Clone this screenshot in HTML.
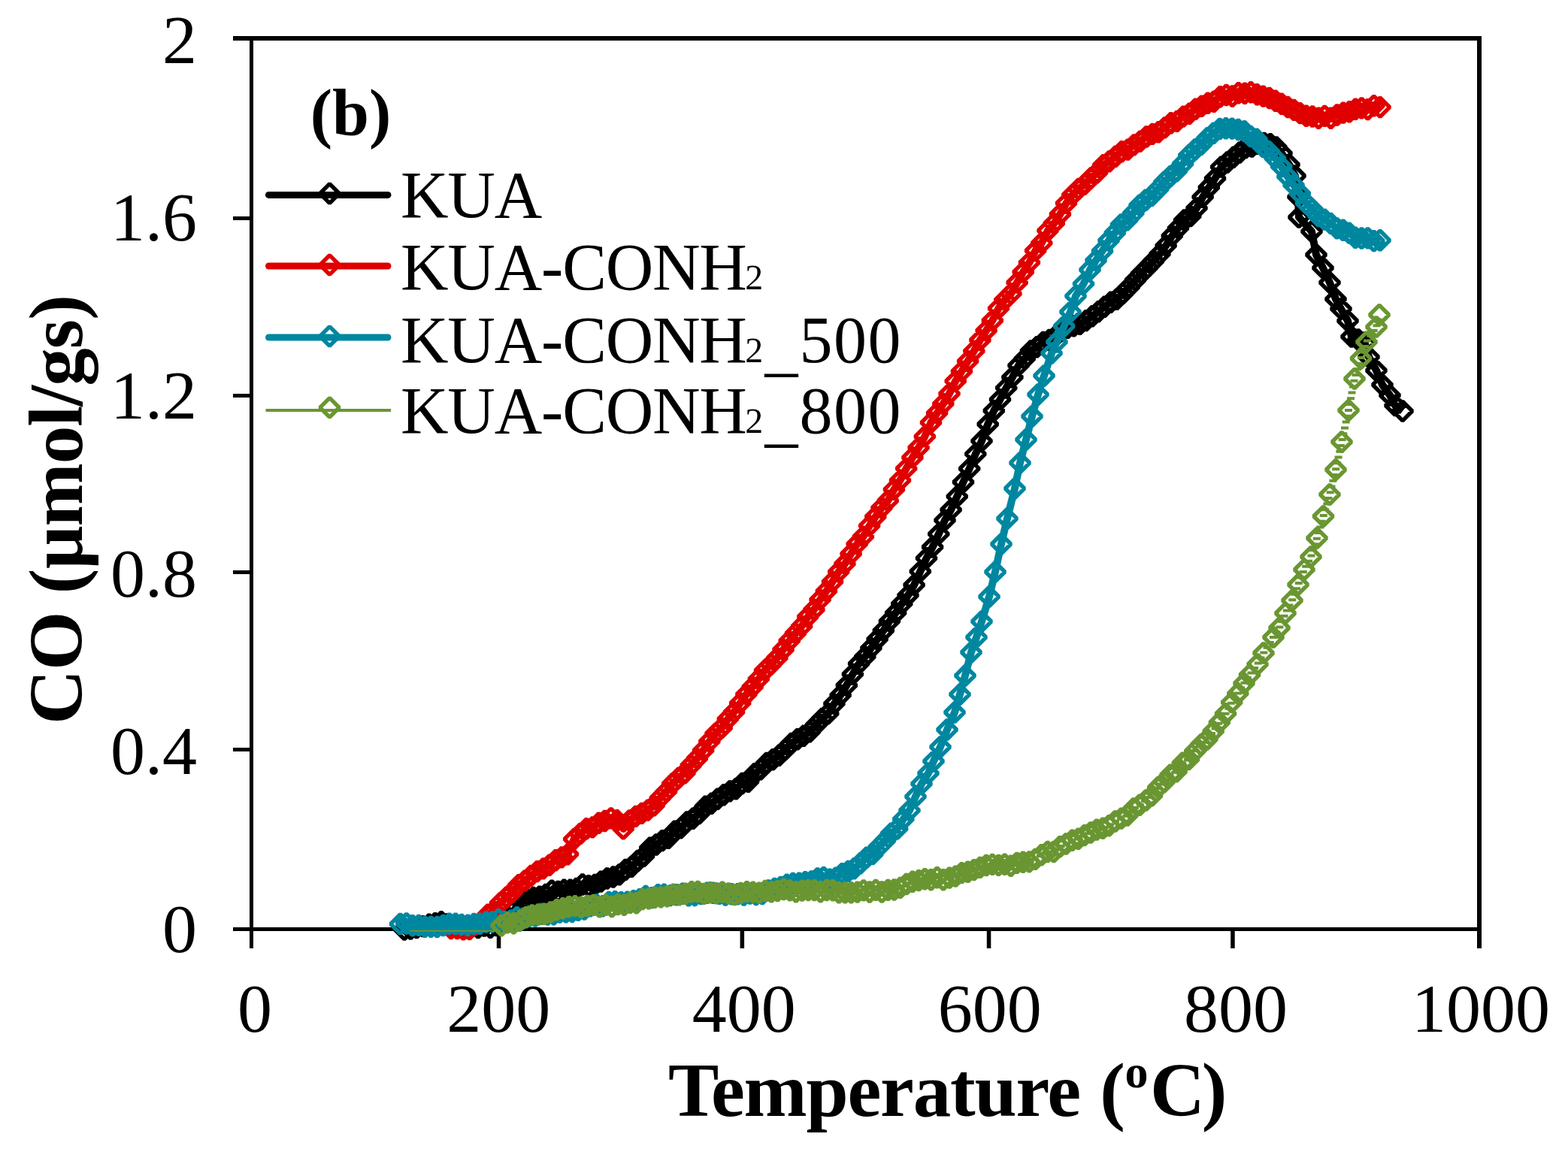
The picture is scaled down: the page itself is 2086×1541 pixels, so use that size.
<!DOCTYPE html>
<html><head><meta charset="utf-8">
<style>
html,body{margin:0;padding:0;background:#fff;}
svg{display:block;}
.t{font-family:"Liberation Serif","Times New Roman",serif;}
.tick{font-size:92px;}
.leg{font-size:88px;letter-spacing:-1.2px;}
.sub{font-size:80px;}
.bold{font-weight:bold;}
</style></head><body>
<svg width="2086" height="1541" viewBox="0 0 2086 1541">
<rect width="2086" height="1541" fill="#fff"/>
<g fill="#000"><rect x="310" y="48" width="1661" height="6"/><rect x="310" y="1234" width="1661" height="5"/><rect x="332" y="48" width="5" height="1214"/><rect x="1965" y="48" width="6" height="1214"/><rect x="310" y="288.0" width="24" height="5"/><rect x="310" y="524.0" width="24" height="5"/><rect x="310" y="759.0" width="24" height="5"/><rect x="310" y="995.0" width="24" height="5"/><rect x="660.8" y="1236" width="5.5" height="26"/><rect x="984.6" y="1236" width="5.5" height="26"/><rect x="1312.8" y="1236" width="5.5" height="26"/><rect x="1637.2" y="1236" width="5.5" height="26"/></g>
<g class="t tick" fill="#000"><text x="262" y="83.5" text-anchor="end">2</text><text x="262" y="320.2" text-anchor="end">1.6</text><text x="262" y="556.9" text-anchor="end">1.2</text><text x="262" y="793.6" text-anchor="end">0.8</text><text x="262" y="1030.3" text-anchor="end">0.4</text><text x="262" y="1267.0" text-anchor="end">0</text><text x="338.9" y="1373" text-anchor="middle">0</text><text x="663.2" y="1373" text-anchor="middle">200</text><text x="989.7" y="1373" text-anchor="middle">400</text><text x="1316.7" y="1373" text-anchor="middle">600</text><text x="1644.0" y="1373" text-anchor="middle">800</text><text x="1970.0" y="1373" text-anchor="middle">1000</text></g>
<g id="series">
<path d="M538.0,1237.1 L546.2,1236.0 L554.3,1234.5 L562.5,1232.6 L570.7,1230.3 L578.9,1228.8 L587.0,1226.8 L595.2,1229.7 L603.4,1233.2 L611.5,1234.1 L619.7,1234.8 L627.9,1232.8 L636.0,1234.5 L644.2,1232.0 L652.4,1234.4 L660.6,1231.6 L668.7,1225.6 L676.9,1221.6 L685.1,1209.5 L693.2,1200.2 L701.4,1197.7 L709.6,1194.4 L717.7,1193.1 L725.9,1190.5 L734.1,1185.1 L742.3,1186.5 L750.4,1184.1 L758.6,1184.2 L766.8,1182.5 L774.9,1177.0 L783.1,1178.8 L791.3,1177.4 L799.4,1173.1 L807.6,1169.0 L815.8,1167.0 L824.0,1163.9 L832.1,1157.4 L840.3,1153.2 L848.5,1145.5 L856.6,1139.3 L864.8,1128.2 L873.0,1124.0 L881.1,1118.6 L889.3,1115.2 L897.5,1106.3 L905.7,1101.9 L913.8,1093.9 L922.0,1089.3 L930.2,1082.5 L938.3,1073.3 L946.5,1069.3 L954.7,1063.2 L962.9,1057.7 L971.0,1052.9 L979.2,1049.7 L987.4,1042.5 L995.5,1040.2 L1003.7,1029.8 L1011.9,1023.8 L1020.0,1015.4 L1028.2,1010.7 L1036.4,1005.3 L1044.6,997.6 L1052.7,989.5 L1060.9,983.7 L1069.1,979.2 L1077.2,973.8 L1085.4,964.8 L1093.6,956.5 L1101.7,949.6 L1109.9,936.4 L1118.1,925.2 L1126.3,912.0 L1134.4,897.2 L1142.6,883.2 L1150.8,873.9 L1158.9,862.4 L1167.1,850.7 L1175.3,839.2 L1183.4,826.6 L1191.6,815.6 L1199.8,803.4 L1208.0,792.2 L1216.1,778.4 L1224.3,760.4 L1232.5,742.8 L1240.6,728.0 L1248.8,710.6 L1257.0,692.3 L1265.1,678.4 L1273.3,660.6 L1281.5,641.5 L1289.7,623.6 L1297.8,604.1 L1306.0,586.8 L1314.2,564.5 L1322.3,546.5 L1330.5,531.7 L1338.7,516.1 L1346.9,502.0 L1355.0,486.3 L1363.2,477.4 L1371.4,467.0 L1379.5,461.7 L1387.7,455.5 L1395.9,452.5 L1404.0,447.6 L1412.2,440.5 L1420.4,436.3 L1428.6,433.8 L1436.7,431.3 L1444.9,426.6 L1453.1,420.8 L1461.2,414.7 L1469.4,408.2 L1477.6,402.3 L1485.7,398.3 L1493.9,390.5 L1502.1,382.1 L1510.3,372.9 L1518.4,364.1 L1526.6,355.8 L1534.8,347.2 L1542.9,338.1 L1551.1,326.9 L1559.3,313.8 L1567.4,303.7 L1575.6,293.0 L1583.8,287.6 L1592.0,276.9 L1600.1,262.2 L1608.3,249.3 L1616.5,237.5 L1624.6,222.1 L1632.8,216.0 L1641.0,209.3 L1649.1,203.0 L1657.3,196.5 L1665.5,195.0 L1673.7,191.2 L1681.8,190.5 L1690.0,191.7 L1698.0,196.0 L1705.0,204.0 L1715.0,219.0 L1723.0,234.0 L1727.0,262.0 L1728.0,289.0 L1745.0,308.0 L1751.0,339.0 L1760.0,356.5 L1769.0,376.0 L1777.0,398.0 L1784.0,411.0 L1793.0,427.0 L1798.0,448.0 L1807.0,452.0 L1815.5,456.0 L1821.0,475.0 L1831.0,493.0 L1839.0,512.0 L1849.0,526.0 L1856.0,539.5 L1866.0,547.0" fill="none" stroke="#000000" stroke-width="10" stroke-linejoin="round"/><path d="M538.0,1224.3l12.8,12.8l-12.8,12.8l-12.8,-12.8zM546.2,1223.2l12.8,12.8l-12.8,12.8l-12.8,-12.8zM554.3,1221.7l12.8,12.8l-12.8,12.8l-12.8,-12.8zM562.5,1219.8l12.8,12.8l-12.8,12.8l-12.8,-12.8zM570.7,1217.5l12.8,12.8l-12.8,12.8l-12.8,-12.8zM578.9,1216.0l12.8,12.8l-12.8,12.8l-12.8,-12.8zM587.0,1214.0l12.8,12.8l-12.8,12.8l-12.8,-12.8zM595.2,1216.9l12.8,12.8l-12.8,12.8l-12.8,-12.8zM603.4,1220.4l12.8,12.8l-12.8,12.8l-12.8,-12.8zM611.5,1221.3l12.8,12.8l-12.8,12.8l-12.8,-12.8zM619.7,1222.0l12.8,12.8l-12.8,12.8l-12.8,-12.8zM627.9,1220.0l12.8,12.8l-12.8,12.8l-12.8,-12.8zM636.0,1221.7l12.8,12.8l-12.8,12.8l-12.8,-12.8zM644.2,1219.2l12.8,12.8l-12.8,12.8l-12.8,-12.8zM652.4,1221.6l12.8,12.8l-12.8,12.8l-12.8,-12.8zM660.6,1218.8l12.8,12.8l-12.8,12.8l-12.8,-12.8zM668.7,1212.8l12.8,12.8l-12.8,12.8l-12.8,-12.8zM676.9,1208.8l12.8,12.8l-12.8,12.8l-12.8,-12.8zM685.1,1196.7l12.8,12.8l-12.8,12.8l-12.8,-12.8zM693.2,1187.4l12.8,12.8l-12.8,12.8l-12.8,-12.8zM701.4,1184.9l12.8,12.8l-12.8,12.8l-12.8,-12.8zM709.6,1181.6l12.8,12.8l-12.8,12.8l-12.8,-12.8zM717.7,1180.3l12.8,12.8l-12.8,12.8l-12.8,-12.8zM725.9,1177.7l12.8,12.8l-12.8,12.8l-12.8,-12.8zM734.1,1172.3l12.8,12.8l-12.8,12.8l-12.8,-12.8zM742.3,1173.7l12.8,12.8l-12.8,12.8l-12.8,-12.8zM750.4,1171.3l12.8,12.8l-12.8,12.8l-12.8,-12.8zM758.6,1171.4l12.8,12.8l-12.8,12.8l-12.8,-12.8zM766.8,1169.7l12.8,12.8l-12.8,12.8l-12.8,-12.8zM774.9,1164.2l12.8,12.8l-12.8,12.8l-12.8,-12.8zM783.1,1166.0l12.8,12.8l-12.8,12.8l-12.8,-12.8zM791.3,1164.6l12.8,12.8l-12.8,12.8l-12.8,-12.8zM799.4,1160.3l12.8,12.8l-12.8,12.8l-12.8,-12.8zM807.6,1156.2l12.8,12.8l-12.8,12.8l-12.8,-12.8zM815.8,1154.2l12.8,12.8l-12.8,12.8l-12.8,-12.8zM824.0,1151.1l12.8,12.8l-12.8,12.8l-12.8,-12.8zM832.1,1144.6l12.8,12.8l-12.8,12.8l-12.8,-12.8zM840.3,1140.4l12.8,12.8l-12.8,12.8l-12.8,-12.8zM848.5,1132.7l12.8,12.8l-12.8,12.8l-12.8,-12.8zM856.6,1126.5l12.8,12.8l-12.8,12.8l-12.8,-12.8zM864.8,1115.4l12.8,12.8l-12.8,12.8l-12.8,-12.8zM873.0,1111.2l12.8,12.8l-12.8,12.8l-12.8,-12.8zM881.1,1105.8l12.8,12.8l-12.8,12.8l-12.8,-12.8zM889.3,1102.4l12.8,12.8l-12.8,12.8l-12.8,-12.8zM897.5,1093.5l12.8,12.8l-12.8,12.8l-12.8,-12.8zM905.7,1089.1l12.8,12.8l-12.8,12.8l-12.8,-12.8zM913.8,1081.1l12.8,12.8l-12.8,12.8l-12.8,-12.8zM922.0,1076.5l12.8,12.8l-12.8,12.8l-12.8,-12.8zM930.2,1069.7l12.8,12.8l-12.8,12.8l-12.8,-12.8zM938.3,1060.5l12.8,12.8l-12.8,12.8l-12.8,-12.8zM946.5,1056.5l12.8,12.8l-12.8,12.8l-12.8,-12.8zM954.7,1050.4l12.8,12.8l-12.8,12.8l-12.8,-12.8zM962.9,1044.9l12.8,12.8l-12.8,12.8l-12.8,-12.8zM971.0,1040.1l12.8,12.8l-12.8,12.8l-12.8,-12.8zM979.2,1036.9l12.8,12.8l-12.8,12.8l-12.8,-12.8zM987.4,1029.7l12.8,12.8l-12.8,12.8l-12.8,-12.8zM995.5,1027.4l12.8,12.8l-12.8,12.8l-12.8,-12.8zM1003.7,1017.0l12.8,12.8l-12.8,12.8l-12.8,-12.8zM1011.9,1011.0l12.8,12.8l-12.8,12.8l-12.8,-12.8zM1020.0,1002.6l12.8,12.8l-12.8,12.8l-12.8,-12.8zM1028.2,997.9l12.8,12.8l-12.8,12.8l-12.8,-12.8zM1036.4,992.5l12.8,12.8l-12.8,12.8l-12.8,-12.8zM1044.6,984.8l12.8,12.8l-12.8,12.8l-12.8,-12.8zM1052.7,976.7l12.8,12.8l-12.8,12.8l-12.8,-12.8zM1060.9,970.9l12.8,12.8l-12.8,12.8l-12.8,-12.8zM1069.1,966.4l12.8,12.8l-12.8,12.8l-12.8,-12.8zM1077.2,961.0l12.8,12.8l-12.8,12.8l-12.8,-12.8zM1085.4,952.0l12.8,12.8l-12.8,12.8l-12.8,-12.8zM1093.6,943.7l12.8,12.8l-12.8,12.8l-12.8,-12.8zM1101.7,936.8l12.8,12.8l-12.8,12.8l-12.8,-12.8zM1109.9,923.6l12.8,12.8l-12.8,12.8l-12.8,-12.8zM1118.1,912.4l12.8,12.8l-12.8,12.8l-12.8,-12.8zM1126.3,899.2l12.8,12.8l-12.8,12.8l-12.8,-12.8zM1134.4,884.4l12.8,12.8l-12.8,12.8l-12.8,-12.8zM1142.6,870.4l12.8,12.8l-12.8,12.8l-12.8,-12.8zM1150.8,861.1l12.8,12.8l-12.8,12.8l-12.8,-12.8zM1158.9,849.6l12.8,12.8l-12.8,12.8l-12.8,-12.8zM1167.1,837.9l12.8,12.8l-12.8,12.8l-12.8,-12.8zM1175.3,826.4l12.8,12.8l-12.8,12.8l-12.8,-12.8zM1183.4,813.8l12.8,12.8l-12.8,12.8l-12.8,-12.8zM1191.6,802.8l12.8,12.8l-12.8,12.8l-12.8,-12.8zM1199.8,790.6l12.8,12.8l-12.8,12.8l-12.8,-12.8zM1208.0,779.4l12.8,12.8l-12.8,12.8l-12.8,-12.8zM1216.1,765.6l12.8,12.8l-12.8,12.8l-12.8,-12.8zM1224.3,747.6l12.8,12.8l-12.8,12.8l-12.8,-12.8zM1232.5,730.0l12.8,12.8l-12.8,12.8l-12.8,-12.8zM1240.6,715.2l12.8,12.8l-12.8,12.8l-12.8,-12.8zM1248.8,697.8l12.8,12.8l-12.8,12.8l-12.8,-12.8zM1257.0,679.5l12.8,12.8l-12.8,12.8l-12.8,-12.8zM1265.1,665.6l12.8,12.8l-12.8,12.8l-12.8,-12.8zM1273.3,647.8l12.8,12.8l-12.8,12.8l-12.8,-12.8zM1281.5,628.7l12.8,12.8l-12.8,12.8l-12.8,-12.8zM1289.7,610.8l12.8,12.8l-12.8,12.8l-12.8,-12.8zM1297.8,591.3l12.8,12.8l-12.8,12.8l-12.8,-12.8zM1306.0,574.0l12.8,12.8l-12.8,12.8l-12.8,-12.8zM1314.2,551.7l12.8,12.8l-12.8,12.8l-12.8,-12.8zM1322.3,533.7l12.8,12.8l-12.8,12.8l-12.8,-12.8zM1330.5,518.9l12.8,12.8l-12.8,12.8l-12.8,-12.8zM1338.7,503.3l12.8,12.8l-12.8,12.8l-12.8,-12.8zM1346.9,489.2l12.8,12.8l-12.8,12.8l-12.8,-12.8zM1355.0,473.5l12.8,12.8l-12.8,12.8l-12.8,-12.8zM1363.2,464.6l12.8,12.8l-12.8,12.8l-12.8,-12.8zM1371.4,454.2l12.8,12.8l-12.8,12.8l-12.8,-12.8zM1379.5,448.9l12.8,12.8l-12.8,12.8l-12.8,-12.8zM1387.7,442.7l12.8,12.8l-12.8,12.8l-12.8,-12.8zM1395.9,439.7l12.8,12.8l-12.8,12.8l-12.8,-12.8zM1404.0,434.8l12.8,12.8l-12.8,12.8l-12.8,-12.8zM1412.2,427.7l12.8,12.8l-12.8,12.8l-12.8,-12.8zM1420.4,423.5l12.8,12.8l-12.8,12.8l-12.8,-12.8zM1428.6,421.0l12.8,12.8l-12.8,12.8l-12.8,-12.8zM1436.7,418.5l12.8,12.8l-12.8,12.8l-12.8,-12.8zM1444.9,413.8l12.8,12.8l-12.8,12.8l-12.8,-12.8zM1453.1,408.0l12.8,12.8l-12.8,12.8l-12.8,-12.8zM1461.2,401.9l12.8,12.8l-12.8,12.8l-12.8,-12.8zM1469.4,395.4l12.8,12.8l-12.8,12.8l-12.8,-12.8zM1477.6,389.5l12.8,12.8l-12.8,12.8l-12.8,-12.8zM1485.7,385.5l12.8,12.8l-12.8,12.8l-12.8,-12.8zM1493.9,377.7l12.8,12.8l-12.8,12.8l-12.8,-12.8zM1502.1,369.3l12.8,12.8l-12.8,12.8l-12.8,-12.8zM1510.3,360.1l12.8,12.8l-12.8,12.8l-12.8,-12.8zM1518.4,351.3l12.8,12.8l-12.8,12.8l-12.8,-12.8zM1526.6,343.0l12.8,12.8l-12.8,12.8l-12.8,-12.8zM1534.8,334.4l12.8,12.8l-12.8,12.8l-12.8,-12.8zM1542.9,325.3l12.8,12.8l-12.8,12.8l-12.8,-12.8zM1551.1,314.1l12.8,12.8l-12.8,12.8l-12.8,-12.8zM1559.3,301.0l12.8,12.8l-12.8,12.8l-12.8,-12.8zM1567.4,290.9l12.8,12.8l-12.8,12.8l-12.8,-12.8zM1575.6,280.2l12.8,12.8l-12.8,12.8l-12.8,-12.8zM1583.8,274.8l12.8,12.8l-12.8,12.8l-12.8,-12.8zM1592.0,264.1l12.8,12.8l-12.8,12.8l-12.8,-12.8zM1600.1,249.4l12.8,12.8l-12.8,12.8l-12.8,-12.8zM1608.3,236.5l12.8,12.8l-12.8,12.8l-12.8,-12.8zM1616.5,224.7l12.8,12.8l-12.8,12.8l-12.8,-12.8zM1624.6,209.3l12.8,12.8l-12.8,12.8l-12.8,-12.8zM1632.8,203.2l12.8,12.8l-12.8,12.8l-12.8,-12.8zM1641.0,196.5l12.8,12.8l-12.8,12.8l-12.8,-12.8zM1649.1,190.2l12.8,12.8l-12.8,12.8l-12.8,-12.8zM1657.3,183.7l12.8,12.8l-12.8,12.8l-12.8,-12.8zM1665.5,182.2l12.8,12.8l-12.8,12.8l-12.8,-12.8zM1673.7,178.4l12.8,12.8l-12.8,12.8l-12.8,-12.8zM1681.8,177.7l12.8,12.8l-12.8,12.8l-12.8,-12.8zM1690.0,178.9l12.8,12.8l-12.8,12.8l-12.8,-12.8zM1698.0,183.2l12.8,12.8l-12.8,12.8l-12.8,-12.8zM1705.0,191.2l12.8,12.8l-12.8,12.8l-12.8,-12.8zM1715.0,206.2l12.8,12.8l-12.8,12.8l-12.8,-12.8zM1723.0,221.2l12.8,12.8l-12.8,12.8l-12.8,-12.8zM1727.0,249.2l12.8,12.8l-12.8,12.8l-12.8,-12.8zM1728.0,276.2l12.8,12.8l-12.8,12.8l-12.8,-12.8zM1745.0,295.2l12.8,12.8l-12.8,12.8l-12.8,-12.8zM1751.0,326.2l12.8,12.8l-12.8,12.8l-12.8,-12.8zM1760.0,343.7l12.8,12.8l-12.8,12.8l-12.8,-12.8zM1769.0,363.2l12.8,12.8l-12.8,12.8l-12.8,-12.8zM1777.0,385.2l12.8,12.8l-12.8,12.8l-12.8,-12.8zM1784.0,398.2l12.8,12.8l-12.8,12.8l-12.8,-12.8zM1793.0,414.2l12.8,12.8l-12.8,12.8l-12.8,-12.8zM1798.0,435.2l12.8,12.8l-12.8,12.8l-12.8,-12.8zM1807.0,439.2l12.8,12.8l-12.8,12.8l-12.8,-12.8zM1815.5,443.2l12.8,12.8l-12.8,12.8l-12.8,-12.8zM1821.0,462.2l12.8,12.8l-12.8,12.8l-12.8,-12.8zM1831.0,480.2l12.8,12.8l-12.8,12.8l-12.8,-12.8zM1839.0,499.2l12.8,12.8l-12.8,12.8l-12.8,-12.8zM1849.0,513.2l12.8,12.8l-12.8,12.8l-12.8,-12.8zM1856.0,526.7l12.8,12.8l-12.8,12.8l-12.8,-12.8zM1866.0,534.2l12.8,12.8l-12.8,12.8l-12.8,-12.8z" fill="none" stroke="#000000" stroke-width="5.4" stroke-linejoin="bevel"/>
<path d="M600.0,1235.5 L608.2,1235.6 L616.4,1236.9 L624.6,1236.5 L632.7,1230.6 L640.9,1226.6 L649.1,1217.2 L657.3,1212.0 L665.5,1201.7 L673.7,1194.2 L681.9,1186.7 L690.0,1177.6 L698.2,1172.1 L706.4,1165.4 L714.6,1159.6 L722.8,1155.9 L731.0,1151.2 L739.2,1144.7 L747.3,1140.9 L755.5,1136.7 L763.7,1116.7 L771.9,1109.5 L780.1,1102.8 L788.3,1100.9 L796.5,1095.3 L804.6,1092.5 L812.8,1088.9 L821.0,1091.8 L829.2,1102.9 L837.4,1091.9 L845.6,1086.4 L853.7,1082.4 L861.9,1078.1 L870.1,1071.9 L878.3,1061.9 L886.5,1053.4 L894.7,1042.8 L902.9,1035.1 L911.0,1028.7 L919.2,1018.3 L927.4,1009.3 L935.6,998.6 L943.8,986.6 L952.0,976.2 L960.2,968.6 L968.3,956.8 L976.5,947.6 L984.7,935.6 L992.9,923.9 L1001.1,914.1 L1009.3,903.7 L1017.5,892.1 L1025.6,884.2 L1033.8,875.6 L1042.0,864.5 L1050.2,852.7 L1058.4,842.8 L1066.6,833.3 L1074.8,820.7 L1082.9,811.3 L1091.1,797.9 L1099.3,786.7 L1107.5,774.1 L1115.7,760.8 L1123.9,750.3 L1132.1,737.0 L1140.2,723.8 L1148.4,714.1 L1156.6,699.7 L1164.8,687.5 L1173.0,675.7 L1181.2,666.3 L1189.4,651.4 L1197.5,639.1 L1205.7,623.4 L1213.9,608.8 L1222.1,595.6 L1230.3,580.8 L1238.5,562.3 L1246.6,549.7 L1254.8,537.4 L1263.0,523.8 L1271.2,507.1 L1279.4,494.1 L1287.6,480.6 L1295.8,467.1 L1303.9,452.5 L1312.1,439.9 L1320.3,426.5 L1328.5,410.3 L1336.7,399.1 L1344.9,390.8 L1353.1,376.0 L1361.2,362.0 L1369.4,349.4 L1377.6,333.5 L1385.8,323.3 L1394.0,306.9 L1402.2,297.4 L1410.4,285.0 L1418.5,270.4 L1426.7,259.4 L1434.9,251.5 L1443.1,245.1 L1451.3,237.0 L1459.5,229.9 L1467.7,219.7 L1475.8,214.7 L1484.0,208.3 L1492.2,201.7 L1500.4,199.1 L1508.6,192.9 L1516.8,188.1 L1525.0,182.0 L1533.1,178.4 L1541.3,175.8 L1549.5,169.9 L1557.7,163.8 L1565.9,161.4 L1574.1,155.1 L1582.3,151.3 L1590.4,145.2 L1598.6,141.2 L1606.8,137.3 L1615.0,135.2 L1623.2,128.7 L1631.4,126.5 L1639.5,128.0 L1647.7,123.7 L1655.9,124.3 L1664.1,122.8 L1672.3,125.7 L1680.5,128.1 L1688.7,130.5 L1696.8,134.2 L1705.0,138.2 L1713.2,142.5 L1721.4,146.4 L1729.6,150.6 L1737.8,154.3 L1746.0,155.0 L1754.1,157.3 L1762.3,154.4 L1770.5,157.2 L1778.7,153.0 L1786.9,150.1 L1795.1,148.8 L1803.3,145.3 L1811.4,143.9 L1819.6,145.6 L1827.8,140.7 L1836.0,142.6" fill="none" stroke="#E00000" stroke-width="10" stroke-linejoin="round"/><path d="M600.0,1222.7l12.8,12.8l-12.8,12.8l-12.8,-12.8zM608.2,1222.8l12.8,12.8l-12.8,12.8l-12.8,-12.8zM616.4,1224.1l12.8,12.8l-12.8,12.8l-12.8,-12.8zM624.6,1223.7l12.8,12.8l-12.8,12.8l-12.8,-12.8zM632.7,1217.8l12.8,12.8l-12.8,12.8l-12.8,-12.8zM640.9,1213.8l12.8,12.8l-12.8,12.8l-12.8,-12.8zM649.1,1204.4l12.8,12.8l-12.8,12.8l-12.8,-12.8zM657.3,1199.2l12.8,12.8l-12.8,12.8l-12.8,-12.8zM665.5,1188.9l12.8,12.8l-12.8,12.8l-12.8,-12.8zM673.7,1181.4l12.8,12.8l-12.8,12.8l-12.8,-12.8zM681.9,1173.9l12.8,12.8l-12.8,12.8l-12.8,-12.8zM690.0,1164.8l12.8,12.8l-12.8,12.8l-12.8,-12.8zM698.2,1159.3l12.8,12.8l-12.8,12.8l-12.8,-12.8zM706.4,1152.6l12.8,12.8l-12.8,12.8l-12.8,-12.8zM714.6,1146.8l12.8,12.8l-12.8,12.8l-12.8,-12.8zM722.8,1143.1l12.8,12.8l-12.8,12.8l-12.8,-12.8zM731.0,1138.4l12.8,12.8l-12.8,12.8l-12.8,-12.8zM739.2,1131.9l12.8,12.8l-12.8,12.8l-12.8,-12.8zM747.3,1128.1l12.8,12.8l-12.8,12.8l-12.8,-12.8zM755.5,1123.9l12.8,12.8l-12.8,12.8l-12.8,-12.8zM763.7,1103.9l12.8,12.8l-12.8,12.8l-12.8,-12.8zM771.9,1096.7l12.8,12.8l-12.8,12.8l-12.8,-12.8zM780.1,1090.0l12.8,12.8l-12.8,12.8l-12.8,-12.8zM788.3,1088.1l12.8,12.8l-12.8,12.8l-12.8,-12.8zM796.5,1082.5l12.8,12.8l-12.8,12.8l-12.8,-12.8zM804.6,1079.7l12.8,12.8l-12.8,12.8l-12.8,-12.8zM812.8,1076.1l12.8,12.8l-12.8,12.8l-12.8,-12.8zM821.0,1079.0l12.8,12.8l-12.8,12.8l-12.8,-12.8zM829.2,1090.1l12.8,12.8l-12.8,12.8l-12.8,-12.8zM837.4,1079.1l12.8,12.8l-12.8,12.8l-12.8,-12.8zM845.6,1073.6l12.8,12.8l-12.8,12.8l-12.8,-12.8zM853.7,1069.6l12.8,12.8l-12.8,12.8l-12.8,-12.8zM861.9,1065.3l12.8,12.8l-12.8,12.8l-12.8,-12.8zM870.1,1059.1l12.8,12.8l-12.8,12.8l-12.8,-12.8zM878.3,1049.1l12.8,12.8l-12.8,12.8l-12.8,-12.8zM886.5,1040.6l12.8,12.8l-12.8,12.8l-12.8,-12.8zM894.7,1030.0l12.8,12.8l-12.8,12.8l-12.8,-12.8zM902.9,1022.3l12.8,12.8l-12.8,12.8l-12.8,-12.8zM911.0,1015.9l12.8,12.8l-12.8,12.8l-12.8,-12.8zM919.2,1005.5l12.8,12.8l-12.8,12.8l-12.8,-12.8zM927.4,996.5l12.8,12.8l-12.8,12.8l-12.8,-12.8zM935.6,985.8l12.8,12.8l-12.8,12.8l-12.8,-12.8zM943.8,973.8l12.8,12.8l-12.8,12.8l-12.8,-12.8zM952.0,963.4l12.8,12.8l-12.8,12.8l-12.8,-12.8zM960.2,955.8l12.8,12.8l-12.8,12.8l-12.8,-12.8zM968.3,944.0l12.8,12.8l-12.8,12.8l-12.8,-12.8zM976.5,934.8l12.8,12.8l-12.8,12.8l-12.8,-12.8zM984.7,922.8l12.8,12.8l-12.8,12.8l-12.8,-12.8zM992.9,911.1l12.8,12.8l-12.8,12.8l-12.8,-12.8zM1001.1,901.3l12.8,12.8l-12.8,12.8l-12.8,-12.8zM1009.3,890.9l12.8,12.8l-12.8,12.8l-12.8,-12.8zM1017.5,879.3l12.8,12.8l-12.8,12.8l-12.8,-12.8zM1025.6,871.4l12.8,12.8l-12.8,12.8l-12.8,-12.8zM1033.8,862.8l12.8,12.8l-12.8,12.8l-12.8,-12.8zM1042.0,851.7l12.8,12.8l-12.8,12.8l-12.8,-12.8zM1050.2,839.9l12.8,12.8l-12.8,12.8l-12.8,-12.8zM1058.4,830.0l12.8,12.8l-12.8,12.8l-12.8,-12.8zM1066.6,820.5l12.8,12.8l-12.8,12.8l-12.8,-12.8zM1074.8,807.9l12.8,12.8l-12.8,12.8l-12.8,-12.8zM1082.9,798.5l12.8,12.8l-12.8,12.8l-12.8,-12.8zM1091.1,785.1l12.8,12.8l-12.8,12.8l-12.8,-12.8zM1099.3,773.9l12.8,12.8l-12.8,12.8l-12.8,-12.8zM1107.5,761.3l12.8,12.8l-12.8,12.8l-12.8,-12.8zM1115.7,748.0l12.8,12.8l-12.8,12.8l-12.8,-12.8zM1123.9,737.5l12.8,12.8l-12.8,12.8l-12.8,-12.8zM1132.1,724.2l12.8,12.8l-12.8,12.8l-12.8,-12.8zM1140.2,711.0l12.8,12.8l-12.8,12.8l-12.8,-12.8zM1148.4,701.3l12.8,12.8l-12.8,12.8l-12.8,-12.8zM1156.6,686.9l12.8,12.8l-12.8,12.8l-12.8,-12.8zM1164.8,674.7l12.8,12.8l-12.8,12.8l-12.8,-12.8zM1173.0,662.9l12.8,12.8l-12.8,12.8l-12.8,-12.8zM1181.2,653.5l12.8,12.8l-12.8,12.8l-12.8,-12.8zM1189.4,638.6l12.8,12.8l-12.8,12.8l-12.8,-12.8zM1197.5,626.3l12.8,12.8l-12.8,12.8l-12.8,-12.8zM1205.7,610.6l12.8,12.8l-12.8,12.8l-12.8,-12.8zM1213.9,596.0l12.8,12.8l-12.8,12.8l-12.8,-12.8zM1222.1,582.8l12.8,12.8l-12.8,12.8l-12.8,-12.8zM1230.3,568.0l12.8,12.8l-12.8,12.8l-12.8,-12.8zM1238.5,549.5l12.8,12.8l-12.8,12.8l-12.8,-12.8zM1246.6,536.9l12.8,12.8l-12.8,12.8l-12.8,-12.8zM1254.8,524.6l12.8,12.8l-12.8,12.8l-12.8,-12.8zM1263.0,511.0l12.8,12.8l-12.8,12.8l-12.8,-12.8zM1271.2,494.3l12.8,12.8l-12.8,12.8l-12.8,-12.8zM1279.4,481.3l12.8,12.8l-12.8,12.8l-12.8,-12.8zM1287.6,467.8l12.8,12.8l-12.8,12.8l-12.8,-12.8zM1295.8,454.3l12.8,12.8l-12.8,12.8l-12.8,-12.8zM1303.9,439.7l12.8,12.8l-12.8,12.8l-12.8,-12.8zM1312.1,427.1l12.8,12.8l-12.8,12.8l-12.8,-12.8zM1320.3,413.7l12.8,12.8l-12.8,12.8l-12.8,-12.8zM1328.5,397.5l12.8,12.8l-12.8,12.8l-12.8,-12.8zM1336.7,386.3l12.8,12.8l-12.8,12.8l-12.8,-12.8zM1344.9,378.0l12.8,12.8l-12.8,12.8l-12.8,-12.8zM1353.1,363.2l12.8,12.8l-12.8,12.8l-12.8,-12.8zM1361.2,349.2l12.8,12.8l-12.8,12.8l-12.8,-12.8zM1369.4,336.6l12.8,12.8l-12.8,12.8l-12.8,-12.8zM1377.6,320.7l12.8,12.8l-12.8,12.8l-12.8,-12.8zM1385.8,310.5l12.8,12.8l-12.8,12.8l-12.8,-12.8zM1394.0,294.1l12.8,12.8l-12.8,12.8l-12.8,-12.8zM1402.2,284.6l12.8,12.8l-12.8,12.8l-12.8,-12.8zM1410.4,272.2l12.8,12.8l-12.8,12.8l-12.8,-12.8zM1418.5,257.6l12.8,12.8l-12.8,12.8l-12.8,-12.8zM1426.7,246.6l12.8,12.8l-12.8,12.8l-12.8,-12.8zM1434.9,238.7l12.8,12.8l-12.8,12.8l-12.8,-12.8zM1443.1,232.3l12.8,12.8l-12.8,12.8l-12.8,-12.8zM1451.3,224.2l12.8,12.8l-12.8,12.8l-12.8,-12.8zM1459.5,217.1l12.8,12.8l-12.8,12.8l-12.8,-12.8zM1467.7,206.9l12.8,12.8l-12.8,12.8l-12.8,-12.8zM1475.8,201.9l12.8,12.8l-12.8,12.8l-12.8,-12.8zM1484.0,195.5l12.8,12.8l-12.8,12.8l-12.8,-12.8zM1492.2,188.9l12.8,12.8l-12.8,12.8l-12.8,-12.8zM1500.4,186.3l12.8,12.8l-12.8,12.8l-12.8,-12.8zM1508.6,180.1l12.8,12.8l-12.8,12.8l-12.8,-12.8zM1516.8,175.3l12.8,12.8l-12.8,12.8l-12.8,-12.8zM1525.0,169.2l12.8,12.8l-12.8,12.8l-12.8,-12.8zM1533.1,165.6l12.8,12.8l-12.8,12.8l-12.8,-12.8zM1541.3,163.0l12.8,12.8l-12.8,12.8l-12.8,-12.8zM1549.5,157.1l12.8,12.8l-12.8,12.8l-12.8,-12.8zM1557.7,151.0l12.8,12.8l-12.8,12.8l-12.8,-12.8zM1565.9,148.6l12.8,12.8l-12.8,12.8l-12.8,-12.8zM1574.1,142.3l12.8,12.8l-12.8,12.8l-12.8,-12.8zM1582.3,138.5l12.8,12.8l-12.8,12.8l-12.8,-12.8zM1590.4,132.4l12.8,12.8l-12.8,12.8l-12.8,-12.8zM1598.6,128.4l12.8,12.8l-12.8,12.8l-12.8,-12.8zM1606.8,124.5l12.8,12.8l-12.8,12.8l-12.8,-12.8zM1615.0,122.4l12.8,12.8l-12.8,12.8l-12.8,-12.8zM1623.2,115.9l12.8,12.8l-12.8,12.8l-12.8,-12.8zM1631.4,113.7l12.8,12.8l-12.8,12.8l-12.8,-12.8zM1639.5,115.2l12.8,12.8l-12.8,12.8l-12.8,-12.8zM1647.7,110.9l12.8,12.8l-12.8,12.8l-12.8,-12.8zM1655.9,111.5l12.8,12.8l-12.8,12.8l-12.8,-12.8zM1664.1,110.0l12.8,12.8l-12.8,12.8l-12.8,-12.8zM1672.3,112.9l12.8,12.8l-12.8,12.8l-12.8,-12.8zM1680.5,115.3l12.8,12.8l-12.8,12.8l-12.8,-12.8zM1688.7,117.7l12.8,12.8l-12.8,12.8l-12.8,-12.8zM1696.8,121.4l12.8,12.8l-12.8,12.8l-12.8,-12.8zM1705.0,125.4l12.8,12.8l-12.8,12.8l-12.8,-12.8zM1713.2,129.7l12.8,12.8l-12.8,12.8l-12.8,-12.8zM1721.4,133.6l12.8,12.8l-12.8,12.8l-12.8,-12.8zM1729.6,137.8l12.8,12.8l-12.8,12.8l-12.8,-12.8zM1737.8,141.5l12.8,12.8l-12.8,12.8l-12.8,-12.8zM1746.0,142.2l12.8,12.8l-12.8,12.8l-12.8,-12.8zM1754.1,144.5l12.8,12.8l-12.8,12.8l-12.8,-12.8zM1762.3,141.6l12.8,12.8l-12.8,12.8l-12.8,-12.8zM1770.5,144.4l12.8,12.8l-12.8,12.8l-12.8,-12.8zM1778.7,140.2l12.8,12.8l-12.8,12.8l-12.8,-12.8zM1786.9,137.3l12.8,12.8l-12.8,12.8l-12.8,-12.8zM1795.1,136.0l12.8,12.8l-12.8,12.8l-12.8,-12.8zM1803.3,132.5l12.8,12.8l-12.8,12.8l-12.8,-12.8zM1811.4,131.1l12.8,12.8l-12.8,12.8l-12.8,-12.8zM1819.6,132.8l12.8,12.8l-12.8,12.8l-12.8,-12.8zM1827.8,127.9l12.8,12.8l-12.8,12.8l-12.8,-12.8zM1836.0,129.8l12.8,12.8l-12.8,12.8l-12.8,-12.8z" fill="none" stroke="#E00000" stroke-width="5.4" stroke-linejoin="bevel"/>
<path d="M532.5,1229.5 L540.7,1229.0 L548.8,1231.7 L557.0,1231.4 L565.2,1233.2 L573.3,1233.3 L581.5,1233.5 L589.6,1231.5 L597.8,1229.3 L606.0,1229.2 L614.1,1230.5 L622.3,1231.3 L630.5,1229.4 L638.6,1229.3 L646.8,1227.0 L654.9,1226.9 L663.1,1223.8 L671.3,1226.5 L679.4,1225.0 L687.6,1220.8 L695.8,1222.3 L703.9,1219.5 L712.1,1219.1 L720.2,1216.2 L728.4,1217.1 L736.6,1216.9 L744.7,1214.1 L752.9,1213.7 L761.1,1213.4 L769.2,1211.4 L777.4,1210.0 L785.5,1205.8 L793.7,1203.9 L801.9,1205.8 L810.0,1200.5 L818.2,1199.7 L826.4,1200.8 L834.5,1200.1 L842.7,1198.7 L850.8,1196.6 L859.0,1192.5 L867.2,1194.6 L875.3,1190.7 L883.5,1190.3 L891.7,1191.6 L899.8,1190.8 L908.0,1189.3 L916.1,1191.8 L924.3,1191.5 L932.5,1189.6 L940.6,1188.3 L948.8,1188.3 L957.0,1189.4 L965.1,1191.0 L973.3,1189.8 L981.4,1189.8 L989.6,1191.0 L997.8,1189.0 L1005.9,1190.5 L1014.1,1189.6 L1022.3,1185.0 L1030.4,1182.5 L1038.6,1180.5 L1046.7,1177.3 L1054.9,1175.5 L1063.1,1175.2 L1071.2,1173.8 L1079.4,1172.9 L1087.6,1168.9 L1095.7,1167.6 L1103.9,1170.1 L1112.0,1168.2 L1120.2,1162.7 L1128.4,1159.5 L1136.5,1155.8 L1144.7,1148.8 L1152.9,1141.1 L1161.0,1136.6 L1169.2,1127.1 L1177.3,1118.8 L1185.5,1109.2 L1193.7,1102.9 L1201.8,1090.0 L1210.0,1078.4 L1218.0,1060.0 L1226.0,1043.0 L1235.0,1029.0 L1242.0,1013.0 L1251.0,994.0 L1260.0,971.0 L1270.0,948.0 L1277.0,924.0 L1284.0,899.0 L1292.0,868.0 L1299.0,848.0 L1306.0,827.0 L1316.0,794.0 L1324.0,761.0 L1332.0,724.0 L1340.0,690.0 L1350.0,650.0 L1357.0,616.0 L1365.0,585.0 L1373.0,554.0 L1381.0,525.0 L1389.0,500.0 L1399.0,470.0 L1406.0,455.0 L1415.6,434.0 L1424.0,415.0 L1431.0,394.0 L1441.5,377.6 L1450.0,359.0 L1458.0,346.5 L1466.5,334.0 L1475.0,320.0 L1483.2,310.0 L1491.4,298.9 L1499.6,292.9 L1507.8,283.7 L1516.0,273.2 L1524.2,266.2 L1532.4,260.4 L1540.6,251.9 L1548.8,242.3 L1557.0,234.6 L1565.2,227.9 L1573.5,218.2 L1581.7,206.7 L1589.9,199.0 L1598.1,192.4 L1606.3,183.6 L1614.5,177.2 L1622.7,171.5 L1630.9,170.8 L1639.1,171.1 L1647.3,172.5 L1655.5,174.6 L1663.7,181.5 L1671.9,185.3 L1680.1,195.4 L1688.3,201.6 L1696.5,210.8 L1704.7,221.6 L1712.9,235.1 L1721.1,246.3 L1729.3,257.3 L1737.5,270.3 L1745.8,278.4 L1754.0,287.5 L1762.2,292.1 L1770.4,297.4 L1778.6,303.9 L1786.8,306.2 L1795.0,310.1 L1803.2,316.3 L1811.4,317.0 L1819.6,316.9 L1827.8,320.6 L1836.0,319.8" fill="none" stroke="#0087A0" stroke-width="10" stroke-linejoin="round"/><path d="M532.5,1216.7l12.8,12.8l-12.8,12.8l-12.8,-12.8zM540.7,1216.2l12.8,12.8l-12.8,12.8l-12.8,-12.8zM548.8,1218.9l12.8,12.8l-12.8,12.8l-12.8,-12.8zM557.0,1218.6l12.8,12.8l-12.8,12.8l-12.8,-12.8zM565.2,1220.4l12.8,12.8l-12.8,12.8l-12.8,-12.8zM573.3,1220.5l12.8,12.8l-12.8,12.8l-12.8,-12.8zM581.5,1220.7l12.8,12.8l-12.8,12.8l-12.8,-12.8zM589.6,1218.7l12.8,12.8l-12.8,12.8l-12.8,-12.8zM597.8,1216.5l12.8,12.8l-12.8,12.8l-12.8,-12.8zM606.0,1216.4l12.8,12.8l-12.8,12.8l-12.8,-12.8zM614.1,1217.7l12.8,12.8l-12.8,12.8l-12.8,-12.8zM622.3,1218.5l12.8,12.8l-12.8,12.8l-12.8,-12.8zM630.5,1216.6l12.8,12.8l-12.8,12.8l-12.8,-12.8zM638.6,1216.5l12.8,12.8l-12.8,12.8l-12.8,-12.8zM646.8,1214.2l12.8,12.8l-12.8,12.8l-12.8,-12.8zM654.9,1214.1l12.8,12.8l-12.8,12.8l-12.8,-12.8zM663.1,1211.0l12.8,12.8l-12.8,12.8l-12.8,-12.8zM671.3,1213.7l12.8,12.8l-12.8,12.8l-12.8,-12.8zM679.4,1212.2l12.8,12.8l-12.8,12.8l-12.8,-12.8zM687.6,1208.0l12.8,12.8l-12.8,12.8l-12.8,-12.8zM695.8,1209.5l12.8,12.8l-12.8,12.8l-12.8,-12.8zM703.9,1206.7l12.8,12.8l-12.8,12.8l-12.8,-12.8zM712.1,1206.3l12.8,12.8l-12.8,12.8l-12.8,-12.8zM720.2,1203.4l12.8,12.8l-12.8,12.8l-12.8,-12.8zM728.4,1204.3l12.8,12.8l-12.8,12.8l-12.8,-12.8zM736.6,1204.1l12.8,12.8l-12.8,12.8l-12.8,-12.8zM744.7,1201.3l12.8,12.8l-12.8,12.8l-12.8,-12.8zM752.9,1200.9l12.8,12.8l-12.8,12.8l-12.8,-12.8zM761.1,1200.6l12.8,12.8l-12.8,12.8l-12.8,-12.8zM769.2,1198.6l12.8,12.8l-12.8,12.8l-12.8,-12.8zM777.4,1197.2l12.8,12.8l-12.8,12.8l-12.8,-12.8zM785.5,1193.0l12.8,12.8l-12.8,12.8l-12.8,-12.8zM793.7,1191.1l12.8,12.8l-12.8,12.8l-12.8,-12.8zM801.9,1193.0l12.8,12.8l-12.8,12.8l-12.8,-12.8zM810.0,1187.7l12.8,12.8l-12.8,12.8l-12.8,-12.8zM818.2,1186.9l12.8,12.8l-12.8,12.8l-12.8,-12.8zM826.4,1188.0l12.8,12.8l-12.8,12.8l-12.8,-12.8zM834.5,1187.3l12.8,12.8l-12.8,12.8l-12.8,-12.8zM842.7,1185.9l12.8,12.8l-12.8,12.8l-12.8,-12.8zM850.8,1183.8l12.8,12.8l-12.8,12.8l-12.8,-12.8zM859.0,1179.7l12.8,12.8l-12.8,12.8l-12.8,-12.8zM867.2,1181.8l12.8,12.8l-12.8,12.8l-12.8,-12.8zM875.3,1177.9l12.8,12.8l-12.8,12.8l-12.8,-12.8zM883.5,1177.5l12.8,12.8l-12.8,12.8l-12.8,-12.8zM891.7,1178.8l12.8,12.8l-12.8,12.8l-12.8,-12.8zM899.8,1178.0l12.8,12.8l-12.8,12.8l-12.8,-12.8zM908.0,1176.5l12.8,12.8l-12.8,12.8l-12.8,-12.8zM916.1,1179.0l12.8,12.8l-12.8,12.8l-12.8,-12.8zM924.3,1178.7l12.8,12.8l-12.8,12.8l-12.8,-12.8zM932.5,1176.8l12.8,12.8l-12.8,12.8l-12.8,-12.8zM940.6,1175.5l12.8,12.8l-12.8,12.8l-12.8,-12.8zM948.8,1175.5l12.8,12.8l-12.8,12.8l-12.8,-12.8zM957.0,1176.6l12.8,12.8l-12.8,12.8l-12.8,-12.8zM965.1,1178.2l12.8,12.8l-12.8,12.8l-12.8,-12.8zM973.3,1177.0l12.8,12.8l-12.8,12.8l-12.8,-12.8zM981.4,1177.0l12.8,12.8l-12.8,12.8l-12.8,-12.8zM989.6,1178.2l12.8,12.8l-12.8,12.8l-12.8,-12.8zM997.8,1176.2l12.8,12.8l-12.8,12.8l-12.8,-12.8zM1005.9,1177.7l12.8,12.8l-12.8,12.8l-12.8,-12.8zM1014.1,1176.8l12.8,12.8l-12.8,12.8l-12.8,-12.8zM1022.3,1172.2l12.8,12.8l-12.8,12.8l-12.8,-12.8zM1030.4,1169.7l12.8,12.8l-12.8,12.8l-12.8,-12.8zM1038.6,1167.7l12.8,12.8l-12.8,12.8l-12.8,-12.8zM1046.7,1164.5l12.8,12.8l-12.8,12.8l-12.8,-12.8zM1054.9,1162.7l12.8,12.8l-12.8,12.8l-12.8,-12.8zM1063.1,1162.4l12.8,12.8l-12.8,12.8l-12.8,-12.8zM1071.2,1161.0l12.8,12.8l-12.8,12.8l-12.8,-12.8zM1079.4,1160.1l12.8,12.8l-12.8,12.8l-12.8,-12.8zM1087.6,1156.1l12.8,12.8l-12.8,12.8l-12.8,-12.8zM1095.7,1154.8l12.8,12.8l-12.8,12.8l-12.8,-12.8zM1103.9,1157.3l12.8,12.8l-12.8,12.8l-12.8,-12.8zM1112.0,1155.4l12.8,12.8l-12.8,12.8l-12.8,-12.8zM1120.2,1149.9l12.8,12.8l-12.8,12.8l-12.8,-12.8zM1128.4,1146.7l12.8,12.8l-12.8,12.8l-12.8,-12.8zM1136.5,1143.0l12.8,12.8l-12.8,12.8l-12.8,-12.8zM1144.7,1136.0l12.8,12.8l-12.8,12.8l-12.8,-12.8zM1152.9,1128.3l12.8,12.8l-12.8,12.8l-12.8,-12.8zM1161.0,1123.8l12.8,12.8l-12.8,12.8l-12.8,-12.8zM1169.2,1114.3l12.8,12.8l-12.8,12.8l-12.8,-12.8zM1177.3,1106.0l12.8,12.8l-12.8,12.8l-12.8,-12.8zM1185.5,1096.4l12.8,12.8l-12.8,12.8l-12.8,-12.8zM1193.7,1090.1l12.8,12.8l-12.8,12.8l-12.8,-12.8zM1201.8,1077.2l12.8,12.8l-12.8,12.8l-12.8,-12.8zM1210.0,1065.6l12.8,12.8l-12.8,12.8l-12.8,-12.8zM1218.0,1047.2l12.8,12.8l-12.8,12.8l-12.8,-12.8zM1226.0,1030.2l12.8,12.8l-12.8,12.8l-12.8,-12.8zM1235.0,1016.2l12.8,12.8l-12.8,12.8l-12.8,-12.8zM1242.0,1000.2l12.8,12.8l-12.8,12.8l-12.8,-12.8zM1251.0,981.2l12.8,12.8l-12.8,12.8l-12.8,-12.8zM1260.0,958.2l12.8,12.8l-12.8,12.8l-12.8,-12.8zM1270.0,935.2l12.8,12.8l-12.8,12.8l-12.8,-12.8zM1277.0,911.2l12.8,12.8l-12.8,12.8l-12.8,-12.8zM1284.0,886.2l12.8,12.8l-12.8,12.8l-12.8,-12.8zM1292.0,855.2l12.8,12.8l-12.8,12.8l-12.8,-12.8zM1299.0,835.2l12.8,12.8l-12.8,12.8l-12.8,-12.8zM1306.0,814.2l12.8,12.8l-12.8,12.8l-12.8,-12.8zM1316.0,781.2l12.8,12.8l-12.8,12.8l-12.8,-12.8zM1324.0,748.2l12.8,12.8l-12.8,12.8l-12.8,-12.8zM1332.0,711.2l12.8,12.8l-12.8,12.8l-12.8,-12.8zM1340.0,677.2l12.8,12.8l-12.8,12.8l-12.8,-12.8zM1350.0,637.2l12.8,12.8l-12.8,12.8l-12.8,-12.8zM1357.0,603.2l12.8,12.8l-12.8,12.8l-12.8,-12.8zM1365.0,572.2l12.8,12.8l-12.8,12.8l-12.8,-12.8zM1373.0,541.2l12.8,12.8l-12.8,12.8l-12.8,-12.8zM1381.0,512.2l12.8,12.8l-12.8,12.8l-12.8,-12.8zM1389.0,487.2l12.8,12.8l-12.8,12.8l-12.8,-12.8zM1399.0,457.2l12.8,12.8l-12.8,12.8l-12.8,-12.8zM1406.0,442.2l12.8,12.8l-12.8,12.8l-12.8,-12.8zM1415.6,421.2l12.8,12.8l-12.8,12.8l-12.8,-12.8zM1424.0,402.2l12.8,12.8l-12.8,12.8l-12.8,-12.8zM1431.0,381.2l12.8,12.8l-12.8,12.8l-12.8,-12.8zM1441.5,364.8l12.8,12.8l-12.8,12.8l-12.8,-12.8zM1450.0,346.2l12.8,12.8l-12.8,12.8l-12.8,-12.8zM1458.0,333.7l12.8,12.8l-12.8,12.8l-12.8,-12.8zM1466.5,321.2l12.8,12.8l-12.8,12.8l-12.8,-12.8zM1475.0,307.2l12.8,12.8l-12.8,12.8l-12.8,-12.8zM1483.2,297.2l12.8,12.8l-12.8,12.8l-12.8,-12.8zM1491.4,286.1l12.8,12.8l-12.8,12.8l-12.8,-12.8zM1499.6,280.1l12.8,12.8l-12.8,12.8l-12.8,-12.8zM1507.8,270.9l12.8,12.8l-12.8,12.8l-12.8,-12.8zM1516.0,260.4l12.8,12.8l-12.8,12.8l-12.8,-12.8zM1524.2,253.4l12.8,12.8l-12.8,12.8l-12.8,-12.8zM1532.4,247.6l12.8,12.8l-12.8,12.8l-12.8,-12.8zM1540.6,239.1l12.8,12.8l-12.8,12.8l-12.8,-12.8zM1548.8,229.5l12.8,12.8l-12.8,12.8l-12.8,-12.8zM1557.0,221.8l12.8,12.8l-12.8,12.8l-12.8,-12.8zM1565.2,215.1l12.8,12.8l-12.8,12.8l-12.8,-12.8zM1573.5,205.4l12.8,12.8l-12.8,12.8l-12.8,-12.8zM1581.7,193.9l12.8,12.8l-12.8,12.8l-12.8,-12.8zM1589.9,186.2l12.8,12.8l-12.8,12.8l-12.8,-12.8zM1598.1,179.6l12.8,12.8l-12.8,12.8l-12.8,-12.8zM1606.3,170.8l12.8,12.8l-12.8,12.8l-12.8,-12.8zM1614.5,164.4l12.8,12.8l-12.8,12.8l-12.8,-12.8zM1622.7,158.7l12.8,12.8l-12.8,12.8l-12.8,-12.8zM1630.9,158.0l12.8,12.8l-12.8,12.8l-12.8,-12.8zM1639.1,158.3l12.8,12.8l-12.8,12.8l-12.8,-12.8zM1647.3,159.7l12.8,12.8l-12.8,12.8l-12.8,-12.8zM1655.5,161.8l12.8,12.8l-12.8,12.8l-12.8,-12.8zM1663.7,168.7l12.8,12.8l-12.8,12.8l-12.8,-12.8zM1671.9,172.5l12.8,12.8l-12.8,12.8l-12.8,-12.8zM1680.1,182.6l12.8,12.8l-12.8,12.8l-12.8,-12.8zM1688.3,188.8l12.8,12.8l-12.8,12.8l-12.8,-12.8zM1696.5,198.0l12.8,12.8l-12.8,12.8l-12.8,-12.8zM1704.7,208.8l12.8,12.8l-12.8,12.8l-12.8,-12.8zM1712.9,222.3l12.8,12.8l-12.8,12.8l-12.8,-12.8zM1721.1,233.5l12.8,12.8l-12.8,12.8l-12.8,-12.8zM1729.3,244.5l12.8,12.8l-12.8,12.8l-12.8,-12.8zM1737.5,257.5l12.8,12.8l-12.8,12.8l-12.8,-12.8zM1745.8,265.6l12.8,12.8l-12.8,12.8l-12.8,-12.8zM1754.0,274.7l12.8,12.8l-12.8,12.8l-12.8,-12.8zM1762.2,279.3l12.8,12.8l-12.8,12.8l-12.8,-12.8zM1770.4,284.6l12.8,12.8l-12.8,12.8l-12.8,-12.8zM1778.6,291.1l12.8,12.8l-12.8,12.8l-12.8,-12.8zM1786.8,293.4l12.8,12.8l-12.8,12.8l-12.8,-12.8zM1795.0,297.3l12.8,12.8l-12.8,12.8l-12.8,-12.8zM1803.2,303.5l12.8,12.8l-12.8,12.8l-12.8,-12.8zM1811.4,304.2l12.8,12.8l-12.8,12.8l-12.8,-12.8zM1819.6,304.1l12.8,12.8l-12.8,12.8l-12.8,-12.8zM1827.8,307.8l12.8,12.8l-12.8,12.8l-12.8,-12.8zM1836.0,307.0l12.8,12.8l-12.8,12.8l-12.8,-12.8z" fill="none" stroke="#0087A0" stroke-width="5.4" stroke-linejoin="bevel"/>
<path d="M545,1238.8 L667,1238.8" stroke="#6A9632" stroke-width="2" fill="none"/>
<path d="M662.0,1229.7h10.0v4.0h-10.0zM669.2,1226.3h10.0v4.0h-10.0zM677.1,1226.6h10.0v4.0h-10.0zM684.6,1224.1h10.0v4.0h-10.0zM691.7,1220.4h10.0v4.0h-10.0zM699.0,1217.3h10.0v4.0h-10.0zM706.7,1215.5h10.0v4.0h-10.0zM714.7,1214.6h10.0v4.0h-10.0zM722.6,1213.3h10.0v4.0h-10.0zM730.2,1210.9h10.0v4.0h-10.0zM737.7,1208.2h10.0v4.0h-10.0zM745.5,1206.4h10.0v4.0h-10.0zM753.3,1204.6h10.0v4.0h-10.0zM761.2,1203.8h10.0v4.0h-10.0zM769.0,1205.1h10.0v4.0h-10.0zM776.8,1203.4h10.0v4.0h-10.0zM784.7,1202.5h10.0v4.0h-10.0zM792.4,1204.7h10.0v4.0h-10.0zM800.1,1202.5h10.0v4.0h-10.0zM807.8,1204.1h10.0v4.0h-10.0zM815.4,1202.2h10.0v4.0h-10.0zM823.3,1202.1h10.0v4.0h-10.0zM830.9,1200.3h10.0v4.0h-10.0zM838.7,1199.7h10.0v4.0h-10.0zM845.9,1197.1h10.0v4.0h-10.0zM853.2,1194.3h10.0v4.0h-10.0zM861.1,1193.2h10.0v4.0h-10.0zM869.0,1192.1h10.0v4.0h-10.0zM877.0,1191.5h10.0v4.0h-10.0zM884.8,1190.0h10.0v4.0h-10.0zM892.6,1188.5h10.0v4.0h-10.0zM900.5,1188.6h10.0v4.0h-10.0zM908.3,1186.9h10.0v4.0h-10.0zM916.0,1184.7h10.0v4.0h-10.0zM924.0,1184.7h10.0v4.0h-10.0zM931.5,1187.4h10.0v4.0h-10.0zM939.3,1185.9h10.0v4.0h-10.0zM947.3,1186.7h10.0v4.0h-10.0zM955.1,1185.3h10.0v4.0h-10.0zM962.9,1186.7h10.0v4.0h-10.0zM970.7,1188.3h10.0v4.0h-10.0zM978.5,1187.0h10.0v4.0h-10.0zM986.3,1185.2h10.0v4.0h-10.0zM994.2,1184.9h10.0v4.0h-10.0zM1002.2,1185.9h10.0v4.0h-10.0zM1009.9,1184.6h10.0v4.0h-10.0zM1017.6,1184.3h10.0v4.0h-10.0zM1025.5,1184.2h10.0v4.0h-10.0zM1033.3,1182.6h10.0v4.0h-10.0zM1041.2,1182.1h10.0v4.0h-10.0zM1049.0,1183.7h10.0v4.0h-10.0zM1056.8,1184.3h10.0v4.0h-10.0zM1064.6,1182.9h10.0v4.0h-10.0zM1072.6,1182.6h10.0v4.0h-10.0zM1080.5,1183.2h10.0v4.0h-10.0zM1088.3,1184.4h10.0v4.0h-10.0zM1096.0,1182.5h10.0v4.0h-10.0zM1103.9,1183.0h10.0v4.0h-10.0zM1111.4,1185.8h10.0v4.0h-10.0zM1119.4,1185.7h10.0v4.0h-10.0zM1127.4,1185.7h10.0v4.0h-10.0zM1135.4,1185.1h10.0v4.0h-10.0zM1143.1,1183.0h10.0v4.0h-10.0zM1150.8,1184.7h10.0v4.0h-10.0zM1158.5,1182.9h10.0v4.0h-10.0zM1166.1,1184.4h10.0v4.0h-10.0zM1173.7,1183.3h10.0v4.0h-10.0zM1181.6,1182.1h10.0v4.0h-10.0zM1189.3,1180.5h10.0v4.0h-10.0zM1196.5,1177.1h10.0v4.0h-10.0zM1203.6,1173.5h10.0v4.0h-10.0zM1211.1,1170.9h10.0v4.0h-10.0zM1219.0,1169.2h10.0v4.0h-10.0zM1226.8,1168.0h10.0v4.0h-10.0zM1234.7,1168.3h10.0v4.0h-10.0zM1242.2,1165.9h10.0v4.0h-10.0zM1249.7,1168.7h10.0v4.0h-10.0zM1257.3,1166.3h10.0v4.0h-10.0zM1265.1,1164.3h10.0v4.0h-10.0zM1272.2,1160.8h10.0v4.0h-10.0zM1279.8,1158.7h10.0v4.0h-10.0zM1287.5,1156.6h10.0v4.0h-10.0zM1295.0,1153.9h10.0v4.0h-10.0zM1302.5,1151.1h10.0v4.0h-10.0zM1310.2,1149.1h10.0v4.0h-10.0zM1318.2,1148.7h10.0v4.0h-10.0zM1326.1,1149.0h10.0v4.0h-10.0zM1334.0,1148.9h10.0v4.0h-10.0zM1341.7,1149.3h10.0v4.0h-10.0zM1349.0,1146.3h10.0v4.0h-10.0zM1356.9,1145.2h10.0v4.0h-10.0zM1364.9,1144.6h10.0v4.0h-10.0zM1372.2,1141.5h10.0v4.0h-10.0zM1378.8,1137.0h10.0v4.0h-10.0zM1385.8,1133.0h10.0v4.0h-10.0zM1393.4,1131.5h10.0v4.0h-10.0zM1400.4,1128.6h10.0v4.0h-10.0zM1406.8,1124.0h10.0v4.0h-10.0zM1414.0,1120.5h10.0v4.0h-10.0zM1420.9,1116.5h10.0v4.0h-10.0zM1428.7,1114.4h10.0v4.0h-10.0zM1435.7,1110.7h10.0v4.0h-10.0zM1442.9,1107.3h10.0v4.0h-10.0zM1450.2,1104.0h10.0v4.0h-10.0zM1457.7,1101.3h10.0v4.0h-10.0zM1465.3,1098.9h10.0v4.0h-10.0zM1472.4,1095.3h10.0v4.0h-10.0zM1479.0,1090.8h10.0v4.0h-10.0zM1486.2,1087.4h10.0v4.0h-10.0zM1493.4,1083.7h10.0v4.0h-10.0zM1499.1,1078.3h10.0v4.0h-10.0zM1504.9,1072.9h10.0v4.0h-10.0zM1511.8,1068.8h10.0v4.0h-10.0zM1518.1,1064.0h10.0v4.0h-10.0zM1524.5,1059.1h10.0v4.0h-10.0zM1530.0,1053.5h10.0v4.0h-10.0zM1534.8,1047.0h10.0v4.0h-10.0zM1540.6,1041.5h10.0v4.0h-10.0zM1546.2,1035.9h10.0v4.0h-10.0zM1551.4,1029.8h10.0v4.0h-10.0zM1558.2,1025.7h10.0v4.0h-10.0zM1563.5,1020.0h10.0v4.0h-10.0zM1568.2,1013.5h10.0v4.0h-10.0zM1575.0,1009.3h10.0v4.0h-10.0zM1580.3,1003.5h10.0v4.0h-10.0zM1585.2,997.1h10.0v4.0h-10.0zM1590.7,991.3h10.0v4.0h-10.0zM1596.4,985.8h10.0v4.0h-10.0zM1602.1,980.2h10.0v4.0h-10.0zM1607.0,973.9h10.0v4.0h-10.0zM1611.7,967.4h10.0v4.0h-10.0zM1616.3,960.8h10.0v4.0h-10.0zM1620.9,954.3h10.0v4.0h-10.0zM1625.5,947.7h10.0v4.0h-10.0zM1629.3,940.7h10.0v4.0h-10.0zM1633.1,933.7h10.0v4.0h-10.0zM1637.5,927.0h10.0v4.0h-10.0zM1642.1,920.4h10.0v4.0h-10.0zM1646.2,913.6h10.0v4.0h-10.0zM1650.4,906.7h10.0v4.0h-10.0zM1654.8,900.1h10.0v4.0h-10.0zM1659.4,893.5h10.0v4.0h-10.0zM1664.2,887.1h10.0v4.0h-10.0zM1668.8,880.6h10.0v4.0h-10.0zM1672.5,873.5h10.0v4.0h-10.0zM1676.3,866.5h10.0v4.0h-10.0zM1680.5,859.7h10.0v4.0h-10.0zM1684.7,852.9h10.0v4.0h-10.0zM1689.0,846.1h10.0v4.0h-10.0zM1693.3,839.3h10.0v4.0h-10.0zM1697.4,832.5h10.0v4.0h-10.0zM1700.4,825.1h10.0v4.0h-10.0zM1703.5,817.7h10.0v4.0h-10.0zM1706.9,810.5h10.0v4.0h-10.0zM1710.6,803.4h10.0v4.0h-10.0zM1714.3,796.3h10.0v4.0h-10.0zM1717.1,788.8h10.0v4.0h-10.0zM1720.0,781.3h10.0v4.0h-10.0zM1722.8,773.9h10.0v4.0h-10.0zM1725.8,766.5h10.0v4.0h-10.0zM1728.8,759.0h10.0v4.0h-10.0zM1732.2,751.8h10.0v4.0h-10.0zM1736.0,744.7h10.0v4.0h-10.0zM1739.5,737.6h10.0v4.0h-10.0zM1741.9,729.9h10.0v4.0h-10.0zM1744.3,722.3h10.0v4.0h-10.0zM1746.8,714.7h10.0v4.0h-10.0zM1749.0,707.0h10.0v4.0h-10.0zM1751.3,699.4h10.0v4.0h-10.0zM1753.5,691.7h10.0v4.0h-10.0zM1755.8,684.0h10.0v4.0h-10.0zM1758.0,676.3h10.0v4.0h-10.0zM1760.3,668.6h10.0v4.0h-10.0zM1762.5,661.0h10.0v4.0h-10.0zM1764.7,653.3h10.0v4.0h-10.0zM1766.5,645.5h10.0v4.0h-10.0zM1768.4,637.7h10.0v4.0h-10.0zM1770.3,629.9h10.0v4.0h-10.0zM1772.2,622.2h10.0v4.0h-10.0zM1773.9,614.3h10.0v4.0h-10.0zM1775.6,606.5h10.0v4.0h-10.0zM1777.3,598.7h10.0v4.0h-10.0zM1778.9,590.9h10.0v4.0h-10.0zM1780.6,583.1h10.0v4.0h-10.0zM1782.3,575.2h10.0v4.0h-10.0zM1784.0,567.4h10.0v4.0h-10.0zM1785.7,559.6h10.0v4.0h-10.0zM1787.3,551.8h10.0v4.0h-10.0zM1789.0,543.9h10.0v4.0h-10.0zM1790.5,536.1h10.0v4.0h-10.0zM1792.0,528.2h10.0v4.0h-10.0zM1793.5,520.4h10.0v4.0h-10.0zM1795.0,512.5h10.0v4.0h-10.0zM1796.5,504.7h10.0v4.0h-10.0zM1798.6,496.9h10.0v4.0h-10.0zM1801.0,489.3h10.0v4.0h-10.0zM1803.4,481.7h10.0v4.0h-10.0zM1805.8,474.1h10.0v4.0h-10.0zM1808.4,466.5h10.0v4.0h-10.0zM1811.0,458.9h10.0v4.0h-10.0zM1814.0,451.5h10.0v4.0h-10.0zM1818.3,444.8h10.0v4.0h-10.0zM1822.7,438.1h10.0v4.0h-10.0zM1826.5,431.2h10.0v4.0h-10.0zM1828.4,423.4h10.0v4.0h-10.0z" fill="#6A9632"/><path d="M667.0,1218.9l12.8,12.8l-12.8,12.8l-12.8,-12.8zM675.2,1215.0l12.8,12.8l-12.8,12.8l-12.8,-12.8zM683.3,1215.9l12.8,12.8l-12.8,12.8l-12.8,-12.8zM691.5,1212.5l12.8,12.8l-12.8,12.8l-12.8,-12.8zM699.7,1208.0l12.8,12.8l-12.8,12.8l-12.8,-12.8zM707.8,1205.1l12.8,12.8l-12.8,12.8l-12.8,-12.8zM716.0,1204.2l12.8,12.8l-12.8,12.8l-12.8,-12.8zM724.2,1203.4l12.8,12.8l-12.8,12.8l-12.8,-12.8zM732.3,1201.2l12.8,12.8l-12.8,12.8l-12.8,-12.8zM740.5,1197.9l12.8,12.8l-12.8,12.8l-12.8,-12.8zM748.7,1196.0l12.8,12.8l-12.8,12.8l-12.8,-12.8zM756.8,1194.0l12.8,12.8l-12.8,12.8l-12.8,-12.8zM765.0,1192.8l12.8,12.8l-12.8,12.8l-12.8,-12.8zM773.1,1194.5l12.8,12.8l-12.8,12.8l-12.8,-12.8zM781.3,1192.7l12.8,12.8l-12.8,12.8l-12.8,-12.8zM789.5,1191.6l12.8,12.8l-12.8,12.8l-12.8,-12.8zM797.6,1194.0l12.8,12.8l-12.8,12.8l-12.8,-12.8zM805.8,1191.5l12.8,12.8l-12.8,12.8l-12.8,-12.8zM814.0,1193.7l12.8,12.8l-12.8,12.8l-12.8,-12.8zM822.1,1190.8l12.8,12.8l-12.8,12.8l-12.8,-12.8zM830.3,1191.5l12.8,12.8l-12.8,12.8l-12.8,-12.8zM838.5,1188.6l12.8,12.8l-12.8,12.8l-12.8,-12.8zM846.6,1189.0l12.8,12.8l-12.8,12.8l-12.8,-12.8zM854.8,1183.8l12.8,12.8l-12.8,12.8l-12.8,-12.8zM863.0,1183.1l12.8,12.8l-12.8,12.8l-12.8,-12.8zM871.1,1181.4l12.8,12.8l-12.8,12.8l-12.8,-12.8zM879.3,1181.1l12.8,12.8l-12.8,12.8l-12.8,-12.8zM887.5,1179.9l12.8,12.8l-12.8,12.8l-12.8,-12.8zM895.6,1177.5l12.8,12.8l-12.8,12.8l-12.8,-12.8zM903.8,1178.1l12.8,12.8l-12.8,12.8l-12.8,-12.8zM912.0,1176.5l12.8,12.8l-12.8,12.8l-12.8,-12.8zM920.1,1174.0l12.8,12.8l-12.8,12.8l-12.8,-12.8zM928.3,1173.7l12.8,12.8l-12.8,12.8l-12.8,-12.8zM936.5,1176.6l12.8,12.8l-12.8,12.8l-12.8,-12.8zM944.6,1175.0l12.8,12.8l-12.8,12.8l-12.8,-12.8zM952.8,1176.0l12.8,12.8l-12.8,12.8l-12.8,-12.8zM961.0,1174.3l12.8,12.8l-12.8,12.8l-12.8,-12.8zM969.1,1176.2l12.8,12.8l-12.8,12.8l-12.8,-12.8zM977.3,1177.8l12.8,12.8l-12.8,12.8l-12.8,-12.8zM985.4,1175.7l12.8,12.8l-12.8,12.8l-12.8,-12.8zM993.6,1173.8l12.8,12.8l-12.8,12.8l-12.8,-12.8zM1001.8,1174.3l12.8,12.8l-12.8,12.8l-12.8,-12.8zM1009.9,1175.5l12.8,12.8l-12.8,12.8l-12.8,-12.8zM1018.1,1172.7l12.8,12.8l-12.8,12.8l-12.8,-12.8zM1026.3,1174.1l12.8,12.8l-12.8,12.8l-12.8,-12.8zM1034.4,1172.8l12.8,12.8l-12.8,12.8l-12.8,-12.8zM1042.6,1170.7l12.8,12.8l-12.8,12.8l-12.8,-12.8zM1050.8,1172.1l12.8,12.8l-12.8,12.8l-12.8,-12.8zM1058.9,1174.1l12.8,12.8l-12.8,12.8l-12.8,-12.8zM1067.1,1172.3l12.8,12.8l-12.8,12.8l-12.8,-12.8zM1075.3,1171.8l12.8,12.8l-12.8,12.8l-12.8,-12.8zM1083.4,1171.8l12.8,12.8l-12.8,12.8l-12.8,-12.8zM1091.6,1174.0l12.8,12.8l-12.8,12.8l-12.8,-12.8zM1099.8,1171.7l12.8,12.8l-12.8,12.8l-12.8,-12.8zM1107.9,1171.9l12.8,12.8l-12.8,12.8l-12.8,-12.8zM1116.1,1175.0l12.8,12.8l-12.8,12.8l-12.8,-12.8zM1124.3,1174.9l12.8,12.8l-12.8,12.8l-12.8,-12.8zM1132.4,1174.9l12.8,12.8l-12.8,12.8l-12.8,-12.8zM1140.6,1174.3l12.8,12.8l-12.8,12.8l-12.8,-12.8zM1148.8,1172.1l12.8,12.8l-12.8,12.8l-12.8,-12.8zM1156.9,1174.2l12.8,12.8l-12.8,12.8l-12.8,-12.8zM1165.1,1171.6l12.8,12.8l-12.8,12.8l-12.8,-12.8zM1173.2,1174.2l12.8,12.8l-12.8,12.8l-12.8,-12.8zM1181.4,1171.6l12.8,12.8l-12.8,12.8l-12.8,-12.8zM1189.6,1171.2l12.8,12.8l-12.8,12.8l-12.8,-12.8zM1197.7,1168.6l12.8,12.8l-12.8,12.8l-12.8,-12.8zM1205.9,1163.7l12.8,12.8l-12.8,12.8l-12.8,-12.8zM1214.1,1160.5l12.8,12.8l-12.8,12.8l-12.8,-12.8zM1222.2,1158.8l12.8,12.8l-12.8,12.8l-12.8,-12.8zM1230.4,1157.0l12.8,12.8l-12.8,12.8l-12.8,-12.8zM1238.6,1157.9l12.8,12.8l-12.8,12.8l-12.8,-12.8zM1246.7,1154.9l12.8,12.8l-12.8,12.8l-12.8,-12.8zM1254.9,1157.9l12.8,12.8l-12.8,12.8l-12.8,-12.8zM1263.1,1155.3l12.8,12.8l-12.8,12.8l-12.8,-12.8zM1271.2,1153.3l12.8,12.8l-12.8,12.8l-12.8,-12.8zM1279.4,1148.8l12.8,12.8l-12.8,12.8l-12.8,-12.8zM1287.6,1147.5l12.8,12.8l-12.8,12.8l-12.8,-12.8zM1295.7,1144.8l12.8,12.8l-12.8,12.8l-12.8,-12.8zM1303.9,1141.6l12.8,12.8l-12.8,12.8l-12.8,-12.8zM1312.1,1138.7l12.8,12.8l-12.8,12.8l-12.8,-12.8zM1320.2,1137.6l12.8,12.8l-12.8,12.8l-12.8,-12.8zM1328.4,1138.6l12.8,12.8l-12.8,12.8l-12.8,-12.8zM1336.6,1137.5l12.8,12.8l-12.8,12.8l-12.8,-12.8zM1344.7,1139.4l12.8,12.8l-12.8,12.8l-12.8,-12.8zM1352.9,1135.6l12.8,12.8l-12.8,12.8l-12.8,-12.8zM1361.0,1134.4l12.8,12.8l-12.8,12.8l-12.8,-12.8zM1369.2,1134.1l12.8,12.8l-12.8,12.8l-12.8,-12.8zM1377.4,1130.6l12.8,12.8l-12.8,12.8l-12.8,-12.8zM1385.5,1125.0l12.8,12.8l-12.8,12.8l-12.8,-12.8zM1393.7,1120.7l12.8,12.8l-12.8,12.8l-12.8,-12.8zM1401.9,1120.7l12.8,12.8l-12.8,12.8l-12.8,-12.8zM1410.0,1114.0l12.8,12.8l-12.8,12.8l-12.8,-12.8zM1418.2,1110.2l12.8,12.8l-12.8,12.8l-12.8,-12.8zM1426.4,1105.5l12.8,12.8l-12.8,12.8l-12.8,-12.8zM1434.5,1103.4l12.8,12.8l-12.8,12.8l-12.8,-12.8zM1442.7,1098.8l12.8,12.8l-12.8,12.8l-12.8,-12.8zM1450.9,1095.2l12.8,12.8l-12.8,12.8l-12.8,-12.8zM1459.0,1091.3l12.8,12.8l-12.8,12.8l-12.8,-12.8zM1467.2,1089.5l12.8,12.8l-12.8,12.8l-12.8,-12.8zM1475.4,1085.9l12.8,12.8l-12.8,12.8l-12.8,-12.8zM1483.5,1080.2l12.8,12.8l-12.8,12.8l-12.8,-12.8zM1491.7,1076.3l12.8,12.8l-12.8,12.8l-12.8,-12.8zM1499.9,1072.2l12.8,12.8l-12.8,12.8l-12.8,-12.8zM1508.0,1063.1l12.8,12.8l-12.8,12.8l-12.8,-12.8zM1516.2,1058.5l12.8,12.8l-12.8,12.8l-12.8,-12.8zM1524.4,1052.3l12.8,12.8l-12.8,12.8l-12.8,-12.8zM1532.5,1046.0l12.8,12.8l-12.8,12.8l-12.8,-12.8zM1540.7,1035.0l12.8,12.8l-12.8,12.8l-12.8,-12.8zM1548.9,1027.8l12.8,12.8l-12.8,12.8l-12.8,-12.8zM1557.0,1018.3l12.8,12.8l-12.8,12.8l-12.8,-12.8zM1565.2,1013.9l12.8,12.8l-12.8,12.8l-12.8,-12.8zM1573.3,1002.5l12.8,12.8l-12.8,12.8l-12.8,-12.8zM1581.5,997.7l12.8,12.8l-12.8,12.8l-12.8,-12.8zM1589.7,986.8l12.8,12.8l-12.8,12.8l-12.8,-12.8zM1597.8,978.2l12.8,12.8l-12.8,12.8l-12.8,-12.8zM1606.0,970.9l12.8,12.8l-12.8,12.8l-12.8,-12.8zM1614.2,960.3l12.8,12.8l-12.8,12.8l-12.8,-12.8zM1622.3,948.5l12.8,12.8l-12.8,12.8l-12.8,-12.8zM1630.5,936.9l12.8,12.8l-12.8,12.8l-12.8,-12.8zM1638.7,921.8l12.8,12.8l-12.8,12.8l-12.8,-12.8zM1646.8,910.0l12.8,12.8l-12.8,12.8l-12.8,-12.8zM1655.0,896.5l12.8,12.8l-12.8,12.8l-12.8,-12.8zM1662.5,885.2l12.8,12.8l-12.8,12.8l-12.8,-12.8zM1673.0,871.2l12.8,12.8l-12.8,12.8l-12.8,-12.8zM1681.0,856.2l12.8,12.8l-12.8,12.8l-12.8,-12.8zM1694.0,835.2l12.8,12.8l-12.8,12.8l-12.8,-12.8zM1702.0,822.7l12.8,12.8l-12.8,12.8l-12.8,-12.8zM1710.0,803.2l12.8,12.8l-12.8,12.8l-12.8,-12.8zM1719.0,786.2l12.8,12.8l-12.8,12.8l-12.8,-12.8zM1727.0,765.2l12.8,12.8l-12.8,12.8l-12.8,-12.8zM1735.0,745.2l12.8,12.8l-12.8,12.8l-12.8,-12.8zM1744.0,728.2l12.8,12.8l-12.8,12.8l-12.8,-12.8zM1752.0,703.2l12.8,12.8l-12.8,12.8l-12.8,-12.8zM1760.5,674.2l12.8,12.8l-12.8,12.8l-12.8,-12.8zM1769.0,645.2l12.8,12.8l-12.8,12.8l-12.8,-12.8zM1777.0,612.2l12.8,12.8l-12.8,12.8l-12.8,-12.8zM1785.0,575.2l12.8,12.8l-12.8,12.8l-12.8,-12.8zM1794.0,533.2l12.8,12.8l-12.8,12.8l-12.8,-12.8zM1802.0,491.2l12.8,12.8l-12.8,12.8l-12.8,-12.8zM1810.5,464.2l12.8,12.8l-12.8,12.8l-12.8,-12.8zM1818.0,442.2l12.8,12.8l-12.8,12.8l-12.8,-12.8zM1831.0,422.2l12.8,12.8l-12.8,12.8l-12.8,-12.8zM1835.0,406.2l12.8,12.8l-12.8,12.8l-12.8,-12.8z" fill="none" stroke="#6A9632" stroke-width="5.4" stroke-linejoin="bevel"/>
</g>
<g class="t leg" fill="#000"><line x1="357.5" y1="259.4" x2="516" y2="259.4" stroke="#000000" stroke-width="9" stroke-linecap="round"/><path d="M438.5,244.7l12.8,12.8l-12.8,12.8l-12.8,-12.8l12.8,-12.8z" fill="none" stroke="#000000" stroke-width="5.4" stroke-linejoin="bevel"/><text x="533" y="289.0">KUA</text><line x1="357.5" y1="354.0" x2="516" y2="354.0" stroke="#E00000" stroke-width="9" stroke-linecap="round"/><path d="M438.5,339.7l12.8,12.8l-12.8,12.8l-12.8,-12.8l12.8,-12.8z" fill="none" stroke="#E00000" stroke-width="5.4" stroke-linejoin="bevel"/><text x="533" y="385.0">KUA-CONH<tspan class="sub" x="989.1" dy="-16.3">&#8322;</tspan></text><line x1="357.5" y1="449.0" x2="516" y2="449.0" stroke="#0087A0" stroke-width="9" stroke-linecap="round"/><path d="M438.5,434.7l12.8,12.8l-12.8,12.8l-12.8,-12.8l12.8,-12.8z" fill="none" stroke="#0087A0" stroke-width="5.4" stroke-linejoin="bevel"/><text x="533" y="482.0">KUA-CONH<tspan class="sub" x="989.1" dy="-16.3">&#8322;</tspan><tspan x="1017.6" dy="25.7">_</tspan><tspan x="1063.5" dy="-9.4" letter-spacing="1.5">500</tspan></text><line x1="353.5" y1="546.0" x2="520" y2="546.0" stroke="#6A9632" stroke-width="4"/><path d="M438.5,529.6l12.8,12.8l-12.8,12.8l-12.8,-12.8l12.8,-12.8z" fill="none" stroke="#6A9632" stroke-width="5.4" stroke-linejoin="bevel"/><text x="533" y="576.0">KUA-CONH<tspan class="sub" x="989.1" dy="-16.3">&#8322;</tspan><tspan x="1017.6" dy="25.7">_</tspan><tspan x="1063.5" dy="-9.4" letter-spacing="1.5">800</tspan></text></g>
<text class="t bold" x="412.8" y="179.6" font-size="88">(b)</text>
<text class="t bold" font-size="101" letter-spacing="-1" transform="translate(109,964) rotate(-90)">CO (µmol/gs)</text>
<text class="t bold" font-size="101" letter-spacing="-1.2" x="889" y="1485.4">Temperature <tspan x="1463.3">(</tspan><tspan x="1496.5" font-size="62" dy="-38.5">o</tspan><tspan x="1530" dy="38.5">C</tspan><tspan x="1598.8">)</tspan></text>
</svg>
</body></html>
